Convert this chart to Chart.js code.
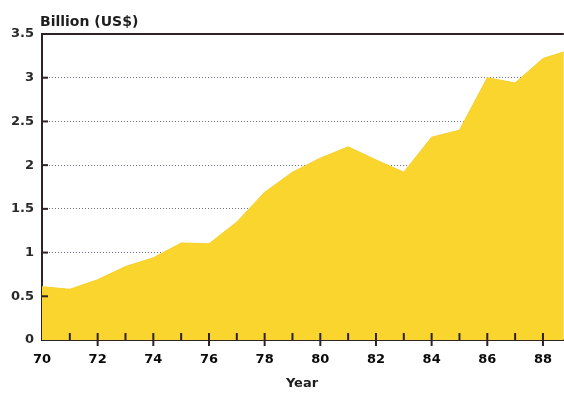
<!DOCTYPE html>
<html>
<head>
<meta charset="utf-8">
<script src="https://cdn.jsdelivr.net/npm/chart.js@4/dist/chart.umd.min.js"></script>
<style>
  html, body { margin: 0; padding: 0; background: #fff; }
  #wrap { width: 564px; height: 394px; }
</style>
</head>
<body>
<div id="wrap"><canvas id="areaChart" width="564" height="394"></canvas></div>
<script>
const years = [70, 71, 72, 73, 74, 75, 76, 77, 78, 79, 80, 81, 82, 83, 84, 85, 86, 87, 88, 89];
const values = [0.61, 0.58, 0.69, 0.84, 0.94, 1.11, 1.10, 1.35, 1.69, 1.92, 2.08, 2.21, 2.06, 1.92, 2.32, 2.40, 3.00, 2.94, 3.22, 3.32];
const yTicks = [0, 0.5, 1, 1.5, 2, 2.5, 3, 3.5];
const yAxisTitle = 'Billion (US$)';
const xAxisTitle = 'Year';

const fontFam = '"DejaVu Sans", sans-serif';
const axisDark = '#2e2226';

const points = years.map((y, i) => ({ x: y, y: values[i] }));

// frame, inward ticks and axis titles
const decor = {
  id: 'decor',
  afterDatasetsDraw(chart) {
    const { ctx, chartArea } = chart;
    const xs = chart.scales.x, ys = chart.scales.y;
    ctx.save();
    ctx.strokeStyle = axisDark;
    ctx.lineWidth = 2;
    // top frame line
    ctx.beginPath();
    ctx.moveTo(chartArea.left, chartArea.top);
    ctx.lineTo(chartArea.right, chartArea.top);
    ctx.stroke();
    // y ticks pointing inward
    yTicks.slice(1, -1).forEach(v => {
      const py = ys.getPixelForValue(v);
      ctx.beginPath();
      ctx.moveTo(chartArea.left, py);
      ctx.lineTo(chartArea.left + 6, py);
      ctx.stroke();
    });
    // x ticks, long on even years
    const b = chartArea.bottom;
    for (let yr = 71; yr <= 88; yr++) {
      const px = xs.getPixelForValue(yr);
      ctx.beginPath();
      if (yr % 2 === 0) { ctx.moveTo(px, b - 7); ctx.lineTo(px, b + 6); }
      else { ctx.moveTo(px, b - 7); ctx.lineTo(px, b); }
      ctx.stroke();
    }
    ctx.fillStyle = '#1e1e1e';
    ctx.font = 'bold 14px ' + fontFam;
    ctx.textBaseline = 'middle';
    ctx.textAlign = 'left';
    ctx.fillText(yAxisTitle, 40, 22);
    ctx.font = 'bold 13px ' + fontFam;
    ctx.textAlign = 'center';
    ctx.fillText(xAxisTitle, 302, 384);
    ctx.restore();
  }
};

new Chart(document.getElementById('areaChart'), {
  type: 'line',
  data: {
    datasets: [{
      data: points,
      fill: 'origin',
      backgroundColor: '#f9d52e',
      borderColor: '#f7d02a',
      borderWidth: 1,
      pointRadius: 0,
      tension: 0
    }]
  },
  options: {
    responsive: false,
    animation: false,
    layout: { padding: { top: 34, right: 0, left: 0, bottom: 0 } },
    plugins: { legend: { display: false }, tooltip: { enabled: false } },
    scales: {
      x: {
        type: 'linear',
        min: 70,
        max: 88.75,
        afterFit(s) { s.height = 54; },
        grid: { display: false, drawTicks: false },
        border: { display: true, color: axisDark, width: 2 },
        ticks: {
          stepSize: 2,
          includeBounds: false,
          padding: 12,
          color: '#0a0a0a',
          font: { family: fontFam, size: 13, weight: 'bold' },
          maxRotation: 0
        }
      },
      y: {
        min: 0,
        max: 3.5,
        afterFit(s) { s.width = 42; },
        afterBuildTicks(s) { s.ticks = yTicks.map(v => ({ value: v })); },
        grid: {
          drawTicks: false,
          color: c => (c.tick && (c.tick.value === 0 || c.tick.value === 3.5)) ? 'rgba(0,0,0,0)' : '#6f6c88',
          lineWidth: 1
        },
        border: { display: true, color: axisDark, width: 2, dash: [1, 2] },
        ticks: {
          padding: 8,
          color: '#2a2a2a',
          font: { family: fontFam, size: 13, weight: 'bold' },
          callback: v => String(v)
        }
      }
    }
  },
  plugins: [decor]
});
</script>
</body>
</html>
